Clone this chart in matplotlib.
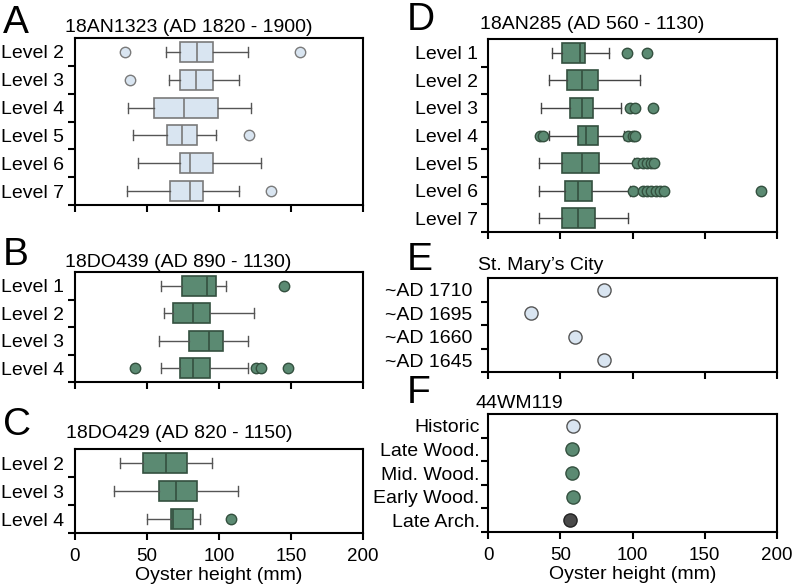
import matplotlib
matplotlib.use("Agg")
import matplotlib.pyplot as plt
import numpy as np

plt.rcParams['font.family'] = ['Liberation Sans', 'DejaVu Sans']

# Panel A: 18AN1323 (AD 1820 - 1900)
a_levels = ['Level 2', 'Level 3', 'Level 4', 'Level 5', 'Level 6', 'Level 7']
a_whislo = [63, 65, 37, 40, 44, 36]
a_q1 = [73, 73, 55, 64, 73, 66]
a_med = [85, 84, 76, 74, 80, 80]
a_q3 = [96, 96, 99, 85, 96, 89]
a_whishi = [120, 114, 122, 98, 129, 114]
a_fliers = [[35, 156], [38], [], [121], [], [136]]

# Panel B: 18DO439 (AD 890 - 1130)
b_levels = ['Level 1', 'Level 2', 'Level 3', 'Level 4']
b_whislo = [60, 62, 58, 60]
b_q1 = [74, 68, 79, 73]
b_med = [92, 82, 93, 82]
b_q3 = [98, 94, 103, 94]
b_whishi = [105, 124, 120, 120]
b_fliers = [[145], [], [], [42, 126, 129, 148]]

# Panel C: 18DO429 (AD 820 - 1150)
c_levels = ['Level 2', 'Level 3', 'Level 4']
c_whislo = [31, 27, 50]
c_q1 = [47, 58, 67]
c_med = [63, 70, 68]
c_q3 = [78, 85, 82]
c_whishi = [95, 113, 87]
c_fliers = [[], [], [108]]

# Panel D: 18AN285 (AD 560 - 1130)
d_levels = ['Level 1', 'Level 2', 'Level 3', 'Level 4', 'Level 5', 'Level 6', 'Level 7']
d_whislo = [44, 42, 37, 42, 35, 35, 35]
d_q1 = [51, 55, 57, 62, 51, 53, 51]
d_med = [64, 65, 65, 68, 65, 62, 62]
d_q3 = [67, 76, 73, 76, 77, 72, 74]
d_whishi = [84, 105, 92, 94, 101, 98, 97]
d_fliers = [[96, 110], [], [98, 102, 114], [36, 38, 97, 100, 102],
            [103, 107, 110, 112.5, 115],
            [100, 107, 110, 113, 116, 119, 122, 189], []]

# Panel E: St. Mary's City
e_labels = ['~AD 1710', '~AD 1695', '~AD 1660', '~AD 1645']
e_values = [80, 30, 60, 80]

# Panel F: 44WM119
f_labels = ['Historic', 'Late Wood.', 'Mid. Wood.', 'Early Wood.', 'Late Arch.']
f_values = [58.5, 58, 58, 58.5, 57]
f_kind = ['light', 'green', 'green', 'green', 'dark']

LIGHT = '#d9e5f1'
LIGHT_EDGE = '#7a7a7a'
GREEN = '#5b8a72'
GREEN_EDGE = '#34503f'
DARK = '#4a4a4a'
kind_colors = {'light': (LIGHT, '#555555'), 'green': (GREEN, GREEN_EDGE), 'dark': (DARK, '#222222')}

W, H = 793, 588
fig = plt.figure(figsize=(W / 100, H / 100), dpi=100)


def px_axes(x0, y0, x1, y1):
    return fig.add_axes([x0 / W, 1 - y1 / H, (x1 - x0) / W, (y1 - y0) / H])


def style(ax, labels, show_x, ypad):
    n = len(labels)
    ax.set_xlim(0, 200)
    ax.set_ylim(n + 0.5, 0.5)
    ax.set_yticks(np.arange(1, n + 1))
    ax.set_yticklabels(labels)
    ax.set_yticks(np.arange(1.5, n + 1), minor=True)
    ax.tick_params(axis='y', which='major', length=0, pad=ypad, labelsize=14)
    ax.tick_params(axis='y', which='minor', length=5, width=1.5, direction='out')
    ax.set_xticks([0, 50, 100, 150, 200])
    ax.tick_params(axis='x', length=5, width=1.5, labelsize=13.5, pad=6,
                   labelbottom=show_x)
    for s in ax.spines.values():
        s.set_linewidth(1.5)
    if show_x:
        ax.set_xlabel('Oyster height (mm)', fontsize=14, labelpad=1)


def boxes(ax, whislo, q1, med, q3, whishi, fliers, face, edge, whisk):
    stats = []
    for i in range(len(med)):
        stats.append(dict(whislo=whislo[i], q1=q1[i], med=med[i], q3=q3[i],
                          whishi=whishi[i], fliers=fliers[i]))
    ax.bxp(stats, positions=np.arange(1, len(med) + 1), widths=0.72,
           orientation='horizontal', patch_artist=True,
           boxprops=dict(facecolor=face, edgecolor=edge, linewidth=1.2),
           medianprops=dict(color=edge, linewidth=1.2),
           whiskerprops=dict(color=whisk, linewidth=1.0),
           capprops=dict(color=whisk, linewidth=1.0),
           flierprops=dict(marker='o', markerfacecolor=face, markeredgecolor=edge,
                           markersize=7.5, linestyle='none', markeredgewidth=1.0))


def label(x, y, letter, title, tx, ty):
    fig.text(x / W, 1 - y / H, letter, fontsize=28, va='baseline', ha='left')
    fig.text(tx / W, 1 - ty / H, title, fontsize=14, va='baseline', ha='left')


axA = px_axes(75, 38, 363, 205)
boxes(axA, a_whislo, a_q1, a_med, a_q3, a_whishi, a_fliers, LIGHT, LIGHT_EDGE, '#555555')
style(axA, a_levels, False, 8)
label(3, 33, 'A', '18AN1323 (AD 1820 - 1900)', 65, 32)

axB = px_axes(75, 272, 363, 382)
boxes(axB, b_whislo, b_q1, b_med, b_q3, b_whishi, b_fliers, GREEN, GREEN_EDGE, '#555555')
style(axB, b_levels, False, 8)
label(3, 265, 'B', '18DO439 (AD 890 - 1130)', 65, 267)

axC = px_axes(75, 449, 363, 533)
boxes(axC, c_whislo, c_q1, c_med, c_q3, c_whishi, c_fliers, GREEN, GREEN_EDGE, '#555555')
style(axC, c_levels, True, 8)
label(3, 435, 'C', '18DO429 (AD 820 - 1150)', 66, 438)

axD = px_axes(488, 39, 777, 232)
boxes(axD, d_whislo, d_q1, d_med, d_q3, d_whishi, d_fliers, GREEN, GREEN_EDGE, '#444444')
style(axD, d_levels, False, 7)
label(407, 30, 'D', '18AN285 (AD 560 - 1130)', 480, 29)

axE = px_axes(488, 278, 777, 372)
ye = np.arange(1, len(e_values) + 1)
axE.plot(e_values, ye, 'o', markersize=9.5, markerfacecolor=LIGHT,
         markeredgecolor='#555555', markeredgewidth=1.0)
style(axE, e_labels, False, 11)
label(407, 270, 'E', 'St. Mary\u2019s City', 478, 270)

axF = px_axes(488, 414, 777, 532)
for i, (v, k) in enumerate(zip(f_values, f_kind)):
    fc, ec = kind_colors[k]
    axF.plot(v, i + 1, 'o', markersize=9.5, markerfacecolor=fc,
             markeredgecolor=ec, markeredgewidth=1.0)
style(axF, f_labels, True, 6)
label(407, 403, 'F', '44WM119', 475, 408)

fig.savefig('out.png', dpi=100)
